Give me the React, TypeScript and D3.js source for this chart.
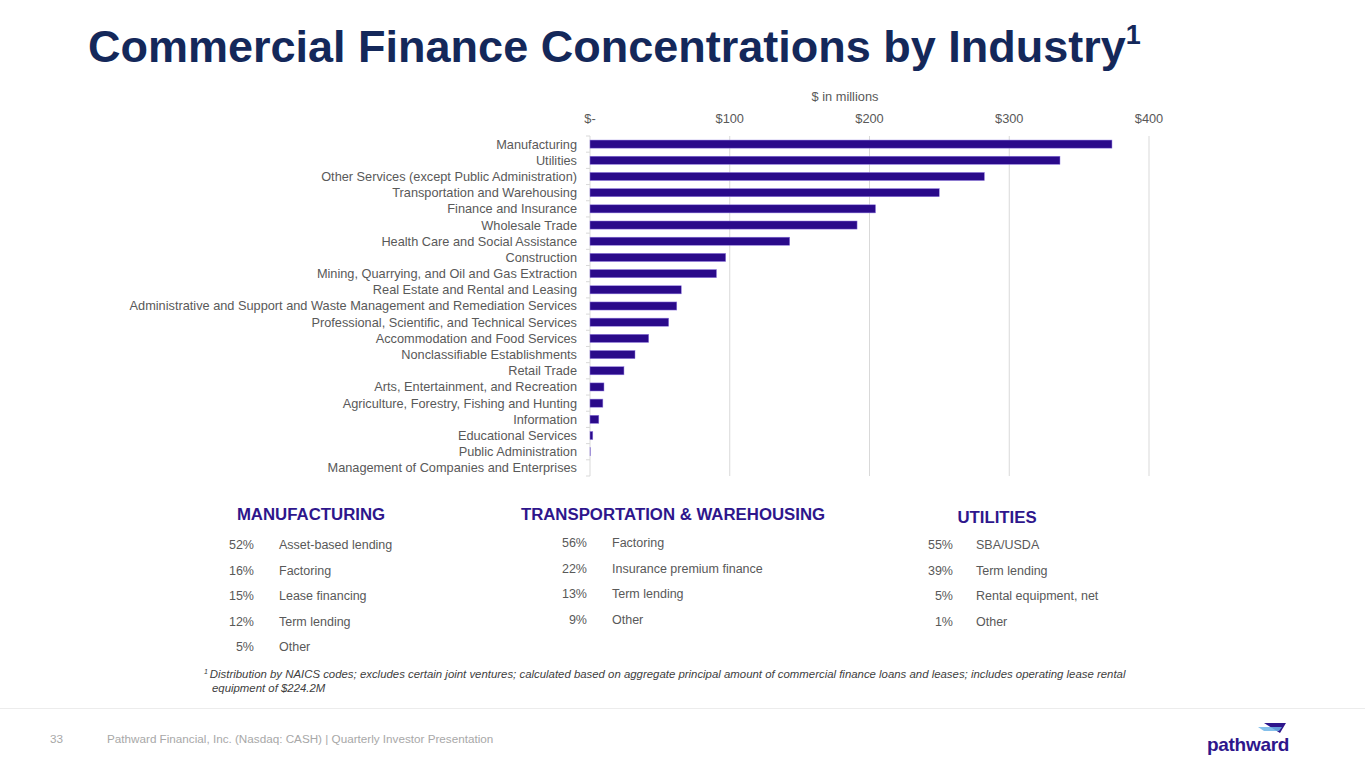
import { useEffect, useRef } from 'react'
import * as d3 from 'd3'

const industries = [
    'Manufacturing',
    'Utilities',
    'Other Services (except Public Administration)',
    'Transportation and Warehousing',
    'Finance and Insurance',
    'Wholesale Trade',
    'Health Care and Social Assistance',
    'Construction',
    'Mining, Quarrying, and Oil and Gas Extraction',
    'Real Estate and Rental and Leasing',
    'Administrative and Support and Waste Management and Remediation Services',
    'Professional, Scientific, and Technical Services',
    'Accommodation and Food Services',
    'Nonclassifiable Establishments',
    'Retail Trade',
    'Arts, Entertainment, and Recreation',
    'Agriculture, Forestry, Fishing and Hunting',
    'Information',
    'Educational Services',
    'Public Administration',
    'Management of Companies and Enterprises',
]

// $ in millions
const balances = [
    373.5, 336.3, 282.2, 249.9, 204.3, 191.1, 142.9, 97.1, 90.5, 65.3, 62.1,
    56.3, 42.0, 32.2, 24.3, 10.0, 9.2, 6.3, 2.0, 0.2, 0,
]

const xTicks = [0, 100, 200, 300, 400]
const xTickLabels = ['$-', '$100', '$200', '$300', '$400']

const mfgPct = ['52%', '16%', '15%', '12%', '5%']
const mfgType = ['Asset-based lending', 'Factoring', 'Lease financing', 'Term lending', 'Other']
const trnPct = ['56%', '22%', '13%', '9%']
const trnType = ['Factoring', 'Insurance premium finance', 'Term lending', 'Other']
const utlPct = ['55%', '39%', '5%', '1%']
const utlType = ['SBA/USDA', 'Term lending', 'Rental equipment, net', 'Other']

const FONT = "'Liberation Sans', Arial, sans-serif"
const NAVY = '#14285a'
const PURPLE = '#2e168c'
const BAR = '#2a0a8a'

const App = () => {
    const ref = useRef<SVGSVGElement | null>(null)

    useEffect(() => {
        document.body.style.margin = '0'
        if (!ref.current) return
        const svg = d3.select(ref.current)
        svg.selectAll('*').remove()
        svg.attr('width', 1365).attr('height', 768).style('font-family', FONT)

        svg.append('rect').attr('width', 1365).attr('height', 768).attr('fill', '#fff')

        // title
        const title = svg
            .append('text')
            .attr('x', 88)
            .attr('y', 62)
            .attr('fill', NAVY)
            .attr('font-size', 45)
            .attr('font-weight', 'bold')
        title.append('tspan').text('Commercial Finance Concentrations by Industry')
        title.append('tspan').attr('font-size', 27).attr('dy', -18).text('1')

        // chart
        const x = d3.scaleLinear().domain([0, 400]).range([590, 1149])
        const y = d3.scaleBand().domain(industries).range([136, 476]).paddingInner(0.5).paddingOuter(0.25)
        const top = 136
        const bottom = 476

        svg.append('text')
            .attr('x', 845)
            .attr('y', 101)
            .attr('text-anchor', 'middle')
            .attr('font-size', 12.8)
            .attr('fill', '#595959')
            .text('$ in millions')

        const grid = svg.append('g')
        grid.selectAll('line')
            .data(xTicks.slice(1))
            .join('line')
            .attr('x1', d => x(d))
            .attr('x2', d => x(d))
            .attr('y1', top)
            .attr('y2', bottom)
            .attr('stroke', '#d9d9d9')
            .attr('stroke-width', 1)

        svg.append('g')
            .selectAll('text')
            .data(xTicks)
            .join('text')
            .attr('x', d => x(d))
            .attr('y', 123)
            .attr('text-anchor', 'middle')
            .attr('font-size', 12.8)
            .attr('fill', '#595959')
            .text((_, i) => xTickLabels[i])

        // category axis
        const yAxis = svg.append('g')
        yAxis.append('line')
            .attr('x1', 590)
            .attr('x2', 590)
            .attr('y1', top)
            .attr('y2', bottom)
            .attr('stroke', '#d9d9d9')
        const step = y.step()
        yAxis.selectAll('line.tick')
            .data(d3.range(industries.length + 1))
            .join('line')
            .attr('class', 'tick')
            .attr('x1', 586)
            .attr('x2', 590)
            .attr('y1', i => top + i * step)
            .attr('y2', i => top + i * step)
            .attr('stroke', '#d9d9d9')

        yAxis.selectAll('text')
            .data(industries)
            .join('text')
            .attr('x', 577)
            .attr('y', d => y(d)! + y.bandwidth() / 2)
            .attr('dy', '0.35em')
            .attr('text-anchor', 'end')
            .attr('font-size', 12.75)
            .attr('fill', '#595959')
            .text(d => d)

        svg.append('g')
            .selectAll('rect')
            .data(balances)
            .join('rect')
            .attr('x', x(0))
            .attr('y', (_, i) => y(industries[i])!)
            .attr('width', d => x(d) - x(0))
            .attr('height', y.bandwidth())
            .attr('fill', BAR)
            .attr('stroke', '#8f7ae0')
            .attr('stroke-width', d => (d > 0 ? 0.5 : 0))

        // breakdown tables
        const table = (
            title: string,
            cx: number,
            ty: number,
            pctX: number,
            labX: number,
            rowY: number,
            pct: string[],
            types: string[]
        ) => {
            const g = svg.append('g')
            g.append('text')
                .attr('x', cx)
                .attr('y', ty)
                .attr('text-anchor', 'middle')
                .attr('font-size', 16.8)
                .attr('font-weight', 'bold')
                .attr('fill', PURPLE)
                .text(title)
            pct.forEach((p, i) => {
                const yy = rowY + i * 25.5
                g.append('text')
                    .attr('x', pctX)
                    .attr('y', yy)
                    .attr('text-anchor', 'end')
                    .attr('font-size', 12.5)
                    .attr('fill', '#595959')
                    .text(p)
                g.append('text')
                    .attr('x', labX)
                    .attr('y', yy)
                    .attr('font-size', 12.5)
                    .attr('fill', '#595959')
                    .text(types[i])
            })
        }
        table('MANUFACTURING', 311, 520, 254, 279, 549, mfgPct, mfgType)
        table('TRANSPORTATION & WAREHOUSING', 673, 520, 587, 612, 547, trnPct, trnType)
        table('UTILITIES', 997, 523, 953, 976, 549, utlPct, utlType)

        // footnote
        const fn = svg
            .append('text')
            .attr('x', 204)
            .attr('y', 678)
            .attr('font-size', 11.4)
            .attr('font-style', 'italic')
            .attr('fill', '#404040')
        fn.append('tspan').attr('font-size', 7).attr('dy', -4).text('1 ')
        fn.append('tspan')
            .attr('dy', 4)
            .text(
                'Distribution by NAICS codes; excludes certain joint ventures; calculated based on aggregate principal amount of commercial finance loans and leases; includes operating lease rental'
            )
        svg.append('text')
            .attr('x', 212)
            .attr('y', 692)
            .attr('font-size', 11.4)
            .attr('font-style', 'italic')
            .attr('fill', '#404040')
            .text('equipment of $224.2M')

        // footer
        svg.append('line')
            .attr('x1', 0)
            .attr('x2', 1365)
            .attr('y1', 708.5)
            .attr('y2', 708.5)
            .attr('stroke', '#ececec')
        svg.append('text')
            .attr('x', 50)
            .attr('y', 743)
            .attr('font-size', 11.7)
            .attr('fill', '#a8a8a8')
            .text('33')
        svg.append('text')
            .attr('x', 107)
            .attr('y', 743)
            .attr('font-size', 11.7)
            .attr('fill', '#a8a8a8')
            .text('Pathward Financial, Inc. (Nasdaq: CASH) | Quarterly Investor Presentation')

        // logo
        svg.append('path')
            .attr('d', 'M1264,723 L1286,723 L1280,733 Z')
            .attr('fill', '#2e168c')
        svg.append('path')
            .attr('d', 'M1258,727 L1282,727 L1279,731 L1264,731 Z')
            .attr('fill', '#6fb5e8')
            .attr('opacity', 0.85)
        svg.append('text')
            .attr('x', 1207)
            .attr('y', 751)
            .attr('font-size', 19)
            .attr('font-weight', 'bold')
            .attr('fill', '#2e168c')
            .attr('letter-spacing', -0.3)
            .text('pathward')
    }, [])

    return <svg ref={ref}></svg>
}

export default App
